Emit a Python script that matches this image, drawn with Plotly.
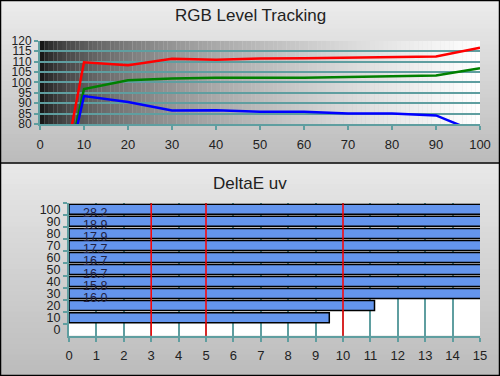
import plotly.graph_objects as go

# ---------------- data ----------------
levels = [0, 10, 20, 30, 40, 50, 60, 70, 80, 90, 100]
red_vals = [0, 109.6, 108.2, 111.3, 110.8, 111.4, 111.6, 111.9, 112.2, 112.4, 116.6]
green_vals = [0, 96.8, 101.0, 101.8, 102.2, 102.2, 102.2, 102.6, 102.8, 103.3, 106.8]
blue_vals = [0, 93.4, 90.6, 86.5, 86.6, 85.9, 85.9, 85.1, 85.0, 84.1, 75.5]

de_categories = ["0", "10", "20", "30", "40", "50", "60", "70", "80", "90", "100"]
de_values = [None, 9.5, 11.15, 16.0, 15.8, 16.7, 16.7, 17.7, 17.9, 18.9, 28.2]
limit_lines = [3, 5, 10]

top_yticks = [80, 85, 90, 95, 100, 105, 110, 115, 120]
top_xticks = [0, 10, 20, 30, 40, 50, 60, 70, 80, 90, 100]

TEAL = "#5F9EA0"
FONT = "Liberation Sans, Arial, sans-serif"
H = 376.0

def py(p):
    return 1 - p / H

fig = go.Figure()

# RGB lines
for vals, col in [(red_vals, "#ff0000"), (green_vals, "#008000"), (blue_vals, "#0000ff")]:
    fig.add_trace(go.Scatter(x=levels, y=vals, mode="lines",
                             line=dict(color=col, width=2.5),
                             xaxis="x", yaxis="y", showlegend=False, hoverinfo="skip"))

# DeltaE bars
fig.add_trace(go.Bar(x=de_values, y=de_categories, orientation="h",
                     marker=dict(color="#6495ED", line=dict(color="black", width=1.5)),
                     xaxis="x2", yaxis="y2", showlegend=False, hoverinfo="skip"))

shapes = []
# panel gradients (paper coords)
def panel_grad(p0, p1, c0, c1, n=40):
    for i in range(n):
        t = i / (n - 1)
        v = int(round(c0 + (c1 - c0) * t))
        a = p0 + (p1 - p0) * i / n
        b = p0 + (p1 - p0) * (i + 1) / n
        shapes.append(dict(type="rect", xref="paper", yref="paper", x0=0, x1=1,
                           y0=py(b) - 0.001, y1=py(a) + 0.001, layer="below",
                           line=dict(width=0), fillcolor=f"rgb({v},{v},{v})"))

panel_grad(0, 163, 236, 188)
panel_grad(163, 376, 232, 188)

# top plot horizontal gradient
for i in range(100):
    v = int(round(255 * ((i + 0.5) / 100) ** 0.45))
    shapes.append(dict(type="rect", xref="x", yref="y", x0=i, x1=i + 1.02,
                       y0=80, y1=120, layer="below", line=dict(width=0),
                       fillcolor=f"rgb({v},{v},{v})"))

# bottom plot white background
shapes.append(dict(type="rect", xref="x2", yref="y2 domain", x0=0, x1=15, y0=0, y1=1,
                   layer="below", line=dict(width=0), fillcolor="white"))

# limit lines
for lx in limit_lines:
    shapes.append(dict(type="line", xref="x2", yref="y2 domain", x0=lx, x1=lx, y0=0, y1=1,
                       layer="above", line=dict(color="#ff0000", width=1.5)))

# borders
shapes.append(dict(type="rect", xref="paper", yref="paper", x0=0.001, x1=0.999, y0=0.0015, y1=0.9985,
                   layer="above", line=dict(color="black", width=1.5)))
shapes.append(dict(type="line", xref="paper", yref="paper", x0=0, x1=1, y0=py(163), y1=py(163),
                   layer="above", line=dict(color="black", width=1.5)))

annotations = [
    dict(text="RGB Level Tracking", x=0.5, y=py(16), xref="paper", yref="paper",
         yanchor="middle", showarrow=False, font=dict(family=FONT, size=17, color="#222222")),
    dict(text="DeltaE uv", x=0.5, y=py(183), xref="paper", yref="paper",
         yanchor="middle", showarrow=False, font=dict(family=FONT, size=17, color="#222222")),
]
for idx, v in enumerate(de_values):
    if v is not None and v > 15:
        annotations.append(dict(text=f"{v:.1f}", x=0.45, y=idx, xref="x2", yref="y2",
                                xanchor="left", yshift=-4, showarrow=False,
                                font=dict(family=FONT, size=12.5, color="#222244")))

axis_common = dict(showline=True, linecolor=TEAL, linewidth=2, ticks="outside",
                   tickcolor=TEAL, tickwidth=2, ticklen=4, zeroline=False, automargin=False,
                   tickfont=dict(family=FONT, size=13, color="#222222"))

fig.update_layout(
    width=500, height=376,
    margin=dict(l=0, r=0, t=0, b=0),
    paper_bgcolor="#d0d0d0",
    plot_bgcolor="rgba(0,0,0,0)",
    shapes=shapes, annotations=annotations,
    bargap=0.17,
    xaxis=dict(domain=[0.08, 0.96], range=[0, 100], tickvals=top_xticks,
               showgrid=False, anchor="y", ticklabelstandoff=3, **axis_common),
    yaxis=dict(domain=[py(124), py(40.7)], range=[80, 120], tickvals=top_yticks,
               showgrid=True, gridcolor=TEAL, gridwidth=1.5, anchor="x",
               **{**axis_common, "tickfont": dict(family=FONT, size=12, color="#222222")}),
    xaxis2=dict(domain=[0.138, 0.96], range=[0, 15], dtick=1, tick0=0,
                showgrid=True, gridcolor=TEAL, gridwidth=1.5, anchor="y2",
                ticklabelstandoff=3, **axis_common),
    yaxis2=dict(domain=[py(335.7), py(203.3)], type="category",
                categoryorder="array", categoryarray=de_categories,
                tickmode="linear", tick0=0, dtick=1, ticklabelstandoff=4,
                range=[-0.5, 10.5], tickson="boundaries", showgrid=False, anchor="x2",
                **{**axis_common, "tickfont": dict(family=FONT, size=12.5, color="#222222")}),
)

fig.write_html("out.html", config={"displayModeBar": False},
               post_script="document.body.style.margin='0px';")
